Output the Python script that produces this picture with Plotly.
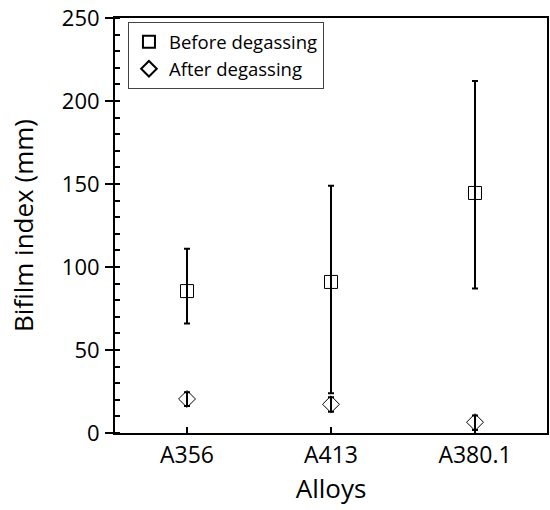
import plotly.graph_objects as go

alloys = ["A356", "A413", "A380.1"]
before = [85.5, 91.0, 144.6]
before_hi = [111.0, 149.0, 212.0]
before_lo = [66.0, 24.0, 87.0]
after = [20.5, 17.3, 6.5]
after_hi = [24.6, 21.6, 10.5]
after_lo = [16.3, 12.8, 1.8]

def plus(v, hi):
    return [h - x for x, h in zip(v, hi)]

def minus(v, lo):
    return [x - l for x, l in zip(v, lo)]

FONT = "Open Sans, Lato, sans-serif"

fig = go.Figure()
fig.add_trace(go.Scatter(
    x=alloys, y=before, mode="markers", name="Before degassing",
    marker=dict(symbol="square-open", size=13, color="black", line=dict(width=1)),
    error_y=dict(type="data", symmetric=False, array=plus(before, before_hi),
                 arrayminus=minus(before, before_lo), color="black", thickness=2, width=3),
))
fig.add_trace(go.Scatter(
    x=alloys, y=after, mode="markers", name="After degassing",
    marker=dict(symbol="diamond-open", size=13, color="black", line=dict(width=1)),
    error_y=dict(type="data", symmetric=False, array=plus(after, after_hi),
                 arrayminus=minus(after, after_lo), color="black", thickness=2, width=3),
))

fig.update_layout(
    width=550, height=510,
    margin=dict(l=115, r=3, t=18, b=77, autoexpand=False),
    paper_bgcolor="white", plot_bgcolor="white",
    font=dict(family=FONT, color="black", size=18),
    showlegend=True,
    legend=dict(x=0.03, y=0.99, xanchor="left", yanchor="top",
                bordercolor="#444", borderwidth=1, bgcolor="white",
                font=dict(size=18.5, family=FONT), itemwidth=30,
                tracegroupgap=0, itemsizing="constant"),
    xaxis=dict(
        type="category", range=[-0.5, 2.5], automargin=False,
        showline=True, linecolor="black", linewidth=2, mirror=True,
        ticks="inside", ticklen=6, tickwidth=1.5, tickcolor="black",
        showgrid=False, zeroline=False,
        tickfont=dict(size=23, family=FONT),
        title=dict(text="Alloys", font=dict(size=26, family=FONT), standoff=10),
    ),
    yaxis=dict(
        range=[0, 250], dtick=50, automargin=False,
        showline=True, linecolor="black", linewidth=2, mirror=True,
        ticks="outside", ticklen=8, tickwidth=1.5, tickcolor="black",
        minor=dict(ticks="inside", dtick=10, ticklen=5, tickwidth=1.5, tickcolor="black", showgrid=False),
        showgrid=False, zeroline=False,
        tickfont=dict(size=22, family=FONT),
        ticklabelstandoff=1,
        title=dict(text="Bifilm index (mm)", font=dict(size=26, family=FONT), standoff=21),
    ),
)

fig.write_html("out.html", config={"displayModeBar": False},
               post_script="document.body.style.margin='0';")
